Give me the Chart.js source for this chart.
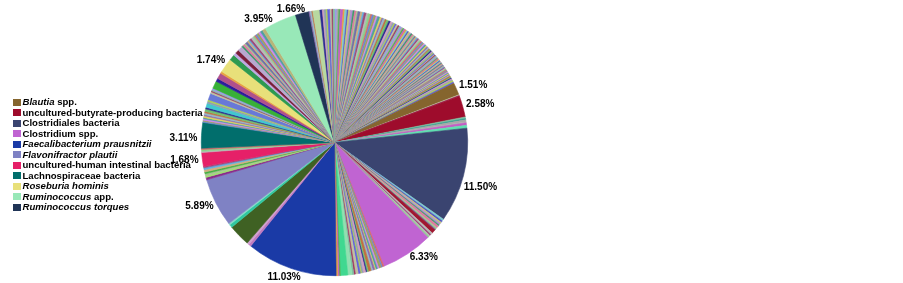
<!DOCTYPE html>
<html>
<head>
<meta charset="utf-8">
<script src="https://cdn.jsdelivr.net/npm/chart.js@4/dist/chart.umd.min.js"></script>
<style>
  html, body { margin: 0; padding: 0; background: #ffffff; }
  #wrap { position: relative; width: 903px; height: 283px; overflow: hidden; }
  #c { position: absolute; left: 0; top: 0; }
  #legend { position: absolute; left: 13px; top: 97px; font-family: "Liberation Sans", Arial, sans-serif; font-weight: bold; font-size: 9.6px; color: #000; }
  .row { height: 10.5px; line-height: 10.5px; white-space: nowrap; display: flex; align-items: center; }
  .sw { display: inline-block; width: 7.5px; height: 7px; margin-right: 2px; flex: none; }
</style>
</head>
<body>
<div id="wrap">
  <canvas id="c" width="903" height="283"></canvas>
  <div id="legend"></div>
</div>
<script>
// ---------------- DATA ----------------
// Named species (legend order = clockwise order in the pie)
const speciesItalic = ["Blautia", "", "", "", "Faecalibacterium prausnitzii", "Flavonifractor plautii", "", "", "Roseburia hominis", "Ruminococcus", "Ruminococcus torques"];
const speciesPlain  = [" spp.", "uncultured-butyrate-producing bacteria", "Clostridiales bacteria", "Clostridium spp.", "", "", "uncultured-human intestinal bacteria", "Lachnospiraceae bacteria", "", " app.", ""];
const speciesValues = [1.51, 2.58, 11.50, 6.33, 11.03, 5.89, 1.68, 3.11, 1.74, 3.95, 1.66];

// Unnamed, unlabelled large slice (dark olive)
const unnamedValues = [2.64];

// Small unnamed slices between the named ones (percent), clockwise from 12 o'clock
const minorBeforeBlautia = [
  0.3,0.22,0.18,0.35,0.2,0.28,0.15,0.25,0.3,0.2,
  0.22,0.18,0.32,0.25,0.2,0.28,0.22,0.3,0.18,0.24,
  0.26,0.2,0.3,0.22,0.18,0.25,0.2,0.28,0.22,0.26,
  0.2,0.15,0.18,0.22,0.16,0.14,0.2,0.17,0.15,0.19,
  0.16,0.18,0.14,0.2,0.15,0.17,0.16,0.19,0.15,0.18,
  0.14,0.17,0.16,0.15,0.18,0.16,0.14,0.17,0.19,0.15,
  0.16,0.18,0.15,0.17,0.16,
  0.12,0.1,0.11,0.13,0.1,0.12,0.09,0.11,0.12,0.1,
  0.11,0.13,0.1,0.12,0.11,0.1,0.12,0.11,0.09,0.13,
  0.1,0.11,0.12,0.1,0.11,0.12,0.1,0.11,0.13,0.1,
  0.12,0.11,0.1,0.15,0.12,0.11,0.14,0.12,0.18,0.15
];
const minorBeforeButyrate = [0.1, 0.08];
const minorBeforeClostridiales = [0.2, 0.15, 0.25, 0.12, 0.3, 0.34];
const minorBeforeClostridium = [0.25,0.2,0.18,0.22,0.15,0.3,0.2,0.12,0.5,0.25,0.18,0.15,0.16];
const minorBeforeFaecali = [0.2,0.15,0.3,0.18,0.22,0.12,0.25,0.2,0.35,0.18,0.15,0.3,0.2,0.15,0.25,0.35,0.18,0.22,0.5,0.9,0.15,0.16,0.2];
const minorBeforeOlive = [0.3, 0.26];
const minorBeforeFlavoni = [0.38, 0.2];
const minorBeforeHuman = [0.3,0.2,0.25,0.2,0.3,0.22,0.17];
const minorBeforeLachno = [0.15, 0.2, 0.16];
const minorBeforeRoseburia = [0.15,0.12,0.18,0.15,0.2,0.15,0.22,0.18,0.3,0.2,0.5,0.25,0.2,0.8,0.21,0.12,0.15,0.2,0.9,0.4,0.7,0.25];
const minorBeforeRumino = [0.7,0.35,0.45,0.6,0.2,0.25,0.15,0.3,0.2,0.15,0.25,0.3,0.2,0.15,0.2,0.25,0.25,0.3,0.4];
const minorAfterTorques = [0.15,0.2,0.12,0.85,0.3,0.2,0.25,0.18,0.3,0.22,0.15,0.16];

// ---------------- STYLES ----------------
const speciesColors = ["#85652e", "#9e0c2c", "#3a4470", "#c064d2", "#1a3aa6", "#7f82c4", "#e62068", "#016e6c", "#e8e07a", "#98e8b8", "#203456"];
const unnamedColors = ["#3f6123"];
const minorPalette = ['#9a9ae8','#a8a8a8','#4cb04c','#c45ec4','#e8a040','#7ecad0','#5050c0','#c8c878','#b090d0','#3a9a6a',
  '#e07aa0','#a6c690','#7070a8','#d0b080','#60b0e0','#9c4a7a','#b8b8b8','#8cd08c','#d86868','#6a8ad0',
  '#a0a060','#cc88ee','#50a0a0','#e0d060','#8a6ab0','#98b8c8','#c07040','#70c070','#2a2a90','#d0a0c0',
  '#90a0b0','#b0d050','#6060e0','#c0c0a0','#a03060','#80c0a0'];
// colour overrides for the more visible unnamed slices (group -> {index: colour})
const colorsBeforeClostridiales = { 1: '#30a090', 3: '#b0b0b0', 5: '#60e0b0' };
const colorsBeforeClostridium = { 8: '#a01830', 9: '#b8b8b8' };
const colorsBeforeFaecali = { 18: '#90e0b0', 19: '#40d890' };
const colorsBeforeOlive = { 0: '#c07ac0', 1: '#d0a0d0' };
const colorsBeforeFlavoni = { 0: '#30c8a0', 1: '#88d8c8' };
const colorsBeforeHuman = { 0: '#8a2a8a', 1: '#a0e070', 3: '#40b040' };
const colorsBeforeRoseburia = { 10: '#40c8d0', 13: '#6878d8', 18: '#38b038', 19: '#2c1c9c', 20: '#b0508c' };
const colorsBeforeRumino = { 0: '#2e9a50', 1: '#c0a8e0', 2: '#7a1e3a', 3: '#b8a8d0', 18: '#b8b478' };
const colorsAfterTorques = { 3: '#b8d8a0' };

// label placement tweaks (Excel-style collision nudges): species index -> [degrees, px]
const labelNudge = { 2: [4, 0], 3: [-3, 0], 7: [-1.5, 0], 9: [-6, 0], 10: [-3, -3] };
const labelGap = 4;

// ---------------- BUILD ----------------
const sequence = [
  ['minor', minorBeforeBlautia, {}], ['species', 0],
  ['minor', minorBeforeButyrate, {}], ['species', 1],
  ['minor', minorBeforeClostridiales, colorsBeforeClostridiales], ['species', 2],
  ['minor', minorBeforeClostridium, colorsBeforeClostridium], ['species', 3],
  ['minor', minorBeforeFaecali, colorsBeforeFaecali], ['species', 4],
  ['minor', minorBeforeOlive, colorsBeforeOlive], ['unnamed', 0],
  ['minor', minorBeforeFlavoni, colorsBeforeFlavoni], ['species', 5],
  ['minor', minorBeforeHuman, colorsBeforeHuman], ['species', 6],
  ['minor', minorBeforeLachno, {}], ['species', 7],
  ['minor', minorBeforeRoseburia, colorsBeforeRoseburia], ['species', 8],
  ['minor', minorBeforeRumino, colorsBeforeRumino], ['species', 9], ['species', 10],
  ['minor', minorAfterTorques, colorsAfterTorques]
];

const sliceValues = [], sliceColors = [], sliceLabels = [], labelledIndex = {};
let mi = 0;
for (const [kind, ref, over] of sequence) {
  if (kind === 'minor') {
    ref.forEach((v, j) => {
      sliceValues.push(v);
      sliceColors.push(over[j] || minorPalette[mi % minorPalette.length]);
      sliceLabels.push('');
      mi++;
    });
  } else if (kind === 'species') {
    labelledIndex[sliceValues.length] = ref;
    sliceValues.push(speciesValues[ref]);
    sliceColors.push(speciesColors[ref]);
    sliceLabels.push((speciesItalic[ref] + speciesPlain[ref]).trim());
  } else {
    sliceValues.push(unnamedValues[ref]);
    sliceColors.push(unnamedColors[ref]);
    sliceLabels.push('');
  }
}

// legend (HTML, mixed italics)
const legendEl = document.getElementById('legend');
speciesValues.forEach((_, i) => {
  const row = document.createElement('div');
  row.className = 'row';
  const sw = document.createElement('span');
  sw.className = 'sw';
  sw.style.background = speciesColors[i];
  row.appendChild(sw);
  const t = document.createElement('span');
  if (speciesItalic[i]) {
    const it = document.createElement('i');
    it.textContent = speciesItalic[i];
    t.appendChild(it);
  }
  if (speciesPlain[i]) {
    t.appendChild(document.createTextNode(speciesPlain[i].replace(/^ /, '\u00a0')));
  }
  row.appendChild(t);
  legendEl.appendChild(row);
});

const pctLabels = {
  id: 'pctLabels',
  afterDatasetsDraw(chart) {
    const ctx = chart.ctx;
    const meta = chart.getDatasetMeta(0);
    ctx.save();
    ctx.font = 'bold 10px "Liberation Sans", Arial, sans-serif';
    ctx.fillStyle = '#000';
    ctx.textAlign = 'center';
    ctx.textBaseline = 'middle';
    for (const k in labelledIndex) {
      const s = labelledIndex[k];
      const arc = meta.data[k];
      const p = arc.getProps(['x', 'y', 'startAngle', 'endAngle', 'outerRadius'], true);
      const nudge = labelNudge[s] || [0, 0];
      const mid = (p.startAngle + p.endAngle) / 2 + nudge[0] * Math.PI / 180;
      const ux = Math.cos(mid), uy = Math.sin(mid);
      const text = speciesValues[s].toFixed(2) + '%';
      const w = ctx.measureText(text).width, h = 10;
      const rr = p.outerRadius + labelGap + nudge[1];
      const px = p.x + ux * rr;
      const py = p.y + uy * rr;
      ctx.fillText(text, px + ux * w / 2, py + uy * h / 2);
    }
    ctx.restore();
  }
};

new Chart(document.getElementById('c'), {
  type: 'pie',
  data: {
    labels: sliceLabels,
    datasets: [{
      data: sliceValues,
      backgroundColor: sliceColors,
      borderColor: sliceColors,
      borderWidth: 0.6
    }]
  },
  options: {
    responsive: false,
    animation: false,
    layout: { padding: { left: 201, top: 9, right: 435, bottom: 7 } },
    plugins: { legend: { display: false }, tooltip: { enabled: false } }
  },
  plugins: [pctLabels]
});
</script>
</body>
</html>
